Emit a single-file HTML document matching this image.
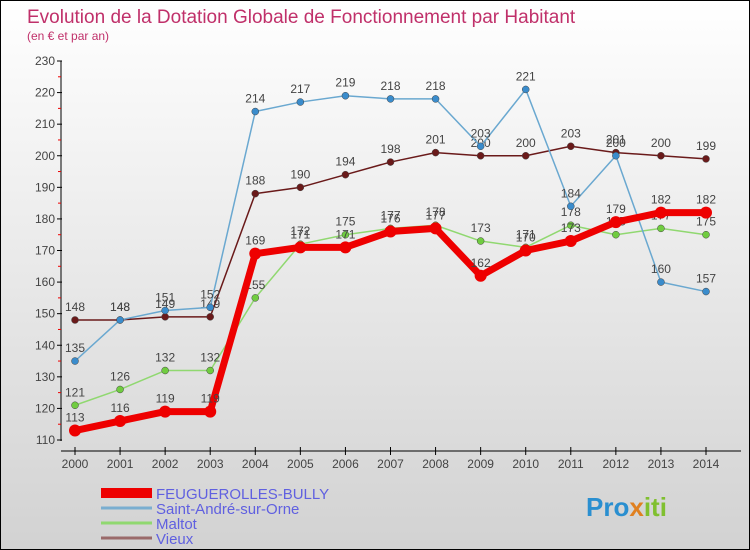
<!DOCTYPE html>
<html><head><meta charset="utf-8"><style>
html,body{margin:0;padding:0}
body{width:750px;height:550px;overflow:hidden;font-family:"Liberation Sans",sans-serif}
#wrap{position:relative;width:748px;height:548px;border:1px solid #000;background:linear-gradient(#fff,#d2d2d2)}
</style></head><body>
<div id="wrap">
<svg id="chart" width="748" height="548" style="position:absolute;left:0;top:0">
<text x="26" y="22" font-size="19" fill="#c0306a">Evolution de la Dotation Globale de Fonctionnement par Habitant</text>
<text x="26" y="39" font-size="12" fill="#c0306a">(en € et par an)</text>
<text x="585" y="515" font-size="26" font-weight="bold" fill="#2a8fd0">Pro<tspan fill="#e08020">x</tspan><tspan fill="#80c030">iti</tspan></text>
</svg>
</div>
<script>
const years=[2000,2001,2002,2003,2004,2005,2006,2007,2008,2009,2010,2011,2012,2013,2014];
const yTicks=[110,120,130,140,150,160,170,180,190,200,210,220,230];
const feug=[113,116,119,119,169,171,171,176,177,162,170,173,179,182,182];
const standre=[135,148,151,152,214,217,219,218,218,203,221,184,200,160,157];
const maltot=[121,126,132,132,155,172,175,177,178,173,171,178,175,177,175];
const vieux=[148,148,149,149,188,190,194,198,201,200,200,203,201,200,199];
const names=["FEUGUEROLLES-BULLY","Saint-André-sur-Orne","Maltot","Vieux"];
const NS="http://www.w3.org/2000/svg";
const svg=document.getElementById('chart');
function X(i){return 74+i*(705-74)/(years.length-1);}
function Y(v){return 439-(v-110)*(439-60)/120;}
function mk(t,a,p){const e=document.createElementNS(NS,t);for(const k in a)e.setAttribute(k,a[k]);(p||svg).appendChild(e);return e;}
let ax=mk('line',{x1:60,y1:60,x2:60,y2:440,stroke:'#000'});


let bx=mk('line',{x1:60,y1:450,x2:740,y2:450,stroke:'#000'});


yTicks.forEach((v,i)=>{
  mk('line',{x1:56,y1:Y(v),x2:61,y2:Y(v),stroke:'#000'});
  if(i<yTicks.length-1) mk('line',{x1:57,y1:Y(v+5),x2:60,y2:Y(v+5),stroke:'#e00'});
  const t=mk('text',{x:54,y:Y(v)+4,'text-anchor':'end','font-size':12,fill:'#444'});
  t.textContent=v;
  
  
});
years.forEach((yr,i)=>{
  mk('line',{x1:X(i),y1:446,x2:X(i),y2:454,stroke:'#000'});
  const t=mk('text',{x:X(i),y:467,'text-anchor':'middle','font-size':12,fill:'#444'});
  t.textContent=yr;
  
  
});
const series=[
 {d:vieux,c:'#6a1a1a',w:1.5,r:3.5,f:'#6a1a1a',n:'vieux'},
 {d:maltot,c:'#90d870',w:1.5,r:3.5,f:'#70cc40',n:'maltot'},
 {d:standre,c:'#6aa8d0',w:1.5,r:3.5,f:'#3a8ccc',n:'saint-andre'},
 {d:feug,c:'#e00',w:7,r:6,f:'#e00',n:'feuguerolles'}
];
series.forEach(s=>{
  const p=mk('polyline',{points:s.d.map((v,i)=>X(i)+','+Y(v)).join(' '),fill:'none',stroke:s.c,'stroke-width':s.w,'stroke-linejoin':'round'});
  
  
  s.d.forEach((v,i)=>{
    const c=mk('circle',{cx:X(i),cy:Y(v),r:s.r,fill:s.f,stroke:s.n==='feuguerolles'?'none':'#444','stroke-width':0.5});
    
    
    const t=mk('text',{x:X(i),y:Y(v)-9,'text-anchor':'middle','font-size':12,fill:'#444'});
    t.textContent=v;
    
    
  });
});
const lc=['#e00','#7aaed0','#90d870','#9a6a6a'],lw=[10,3,3,3];
names.forEach((n,i)=>{
  const y=493+i*15;
  const l=mk('line',{x1:100,y1:y-1,x2:151,y2:y-1,stroke:lc[i],'stroke-width':lw[i]});
  
  
  const t=mk('text',{x:155,y:y+5,'font-size':15,fill:'#6060e0'});
  t.textContent=n;
  
  
});
</script>
</body></html>
